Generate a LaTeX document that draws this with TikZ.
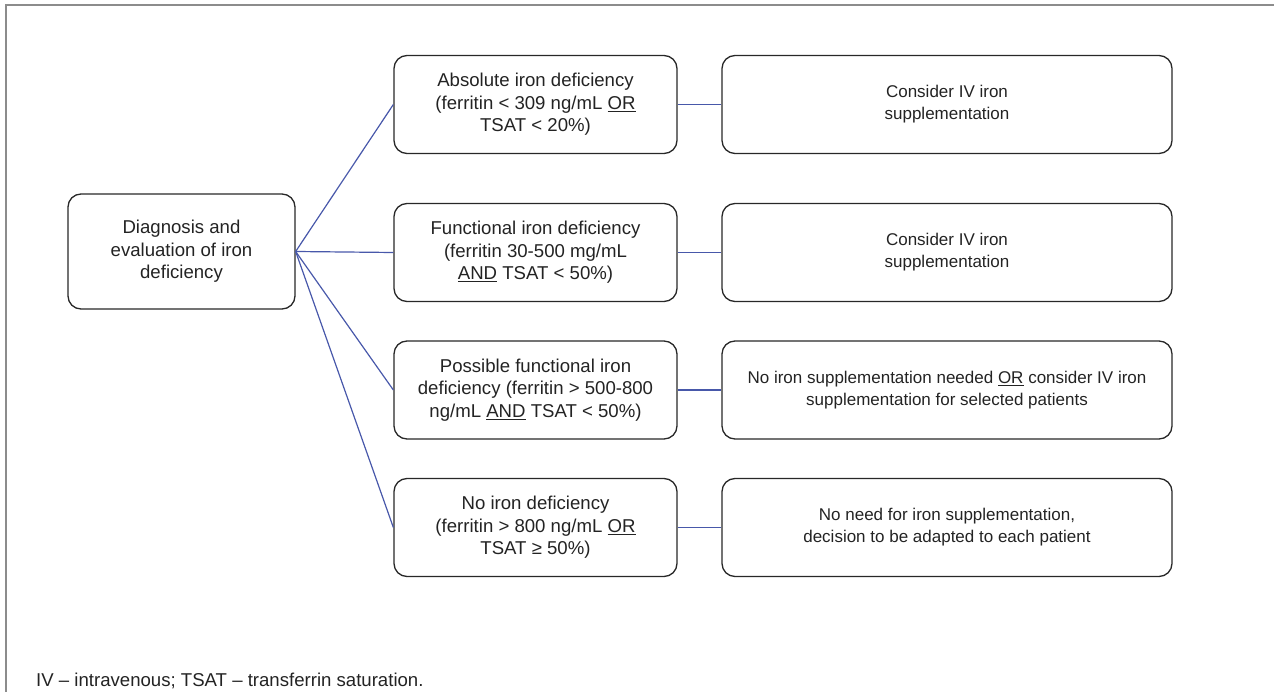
\documentclass[tikz,border=0pt]{standalone}
\usepackage{fontspec}
\setmainfont{Liberation Sans}
\usetikzlibrary{positioning}
\definecolor{linkblue}{RGB}{72,88,170}
\definecolor{boxgray}{RGB}{40,40,40}
\definecolor{textgray}{RGB}{35,35,35}
\definecolor{framegray}{RGB}{140,140,140}

\begin{document}
\begin{tikzpicture}[x=1pt,y=-1pt,
    box/.style={draw=boxgray, line width=1.3pt, rounded corners=13pt, align=center,
      text=textgray, font=\fontsize{18.6}{22.5}\selectfont, inner sep=0pt},
    rootbox/.style={box, minimum width=227pt, minimum height=115pt},
    critbox/.style={box, minimum width=283pt, minimum height=98pt},
    actbox/.style={box, minimum width=450pt, minimum height=98pt,
      font=\fontsize{17}{22}\selectfont},
    link/.style={draw=linkblue, line width=1.2pt}]
    \useasboundingbox (0,0) rectangle (1274,692);
    \draw[framegray, line width=2pt] (1274,5) -- (6,5) -- (6,692);

    \node[rootbox] (diag) at (181.5,251.5) {Diagnosis and\\evaluation of iron\\deficiency};

    \node[critbox] (absolute) at (535.5,104.5) {Absolute iron deficiency\\(ferritin < 309 ng/mL \underline{OR}\\TSAT < 20\%)};
    \node[critbox] (functional) at (535.5,252.5) {Functional iron deficiency\\(ferritin 30-500 mg/mL\\\underline{AND} TSAT < 50\%)};
    \node[critbox] (possible) at (535.5,390) {Possible functional iron\\deficiency (ferritin > 500-800\\ng/mL \underline{AND} TSAT < 50\%)};
    \node[critbox] (none) at (535.5,527.5) {No iron deficiency\\(ferritin > 800 ng/mL \underline{OR}\\TSAT ≥ 50\%)};

    \node[actbox] (act1) at (947,104.5) {Consider IV iron\\supplementation};
    \node[actbox] (act2) at (947,252.5) {Consider IV iron\\supplementation};
    \node[actbox] (act3) at (947,390) {No iron supplementation needed \underline{OR} consider IV iron\\supplementation for selected patients};
    \node[actbox] (act4) at (947,527.5) {No need for iron supplementation,\\decision to be adapted to each patient};

    \foreach \crit/\act in {absolute/act1, functional/act2, possible/act3, none/act4} {
        \draw[link] (diag.east) -- (\crit.west);
        \draw[link] (\crit.east) -- (\act.west);
    }

    \node[anchor=base west, text=textgray, font=\fontsize{18.6}{22.5}\selectfont, inner sep=0pt] (note) at (36,686)
        {IV – intravenous; TSAT – transferrin saturation.};
\end{tikzpicture}
\end{document}
